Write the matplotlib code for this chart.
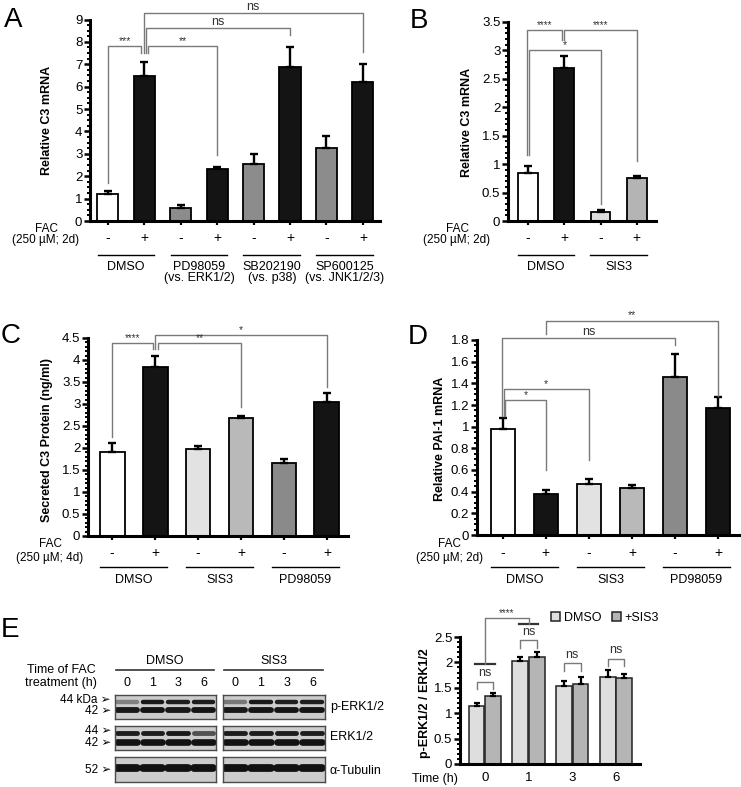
import numpy as np
import matplotlib
matplotlib.use("Agg")
import matplotlib.pyplot as plt
from matplotlib.ticker import MultipleLocator, FuncFormatter
from matplotlib.transforms import blended_transform_factory

plt.rcParams['font.family'] = ['Liberation Sans', 'DejaVu Sans']

# ---------------- data ----------------
A_vals = [1.21, 6.48, 0.58, 2.31, 2.53, 6.87, 3.25, 6.22]
A_err = [0.11, 0.61, 0.13, 0.11, 0.45, 0.88, 0.55, 0.79]
A_colors = ['white', '#141414', '#8c8c8c', '#141414', '#8c8c8c', '#141414', '#8c8c8c', '#141414']
A_fac = ['-', '+', '-', '+', '-', '+', '-', '+']
A_groups = ['DMSO', 'PD98059', 'SB202190', 'SP600125']
A_sub = ['', '(vs. ERK1/2)', '(vs. p38)', '(vs. JNK1/2/3)']

B_vals = [0.85, 2.69, 0.16, 0.75]
B_err = [0.12, 0.21, 0.03, 0.04]
B_colors = ['white', '#141414', '#dcdcdc', '#b4b4b4']
B_fac = ['-', '+', '-', '+']
B_groups = ['DMSO', 'SIS3']

C_vals = [1.92, 3.85, 1.97, 2.69, 1.65, 3.05]
C_err = [0.20, 0.23, 0.08, 0.04, 0.09, 0.21]
C_colors = ['white', '#141414', '#e2e2e2', '#b9b9b9', '#8a8a8a', '#141414']
C_fac = ['-', '+', '-', '+', '-', '+']
C_groups = ['DMSO', 'SIS3', 'PD98059']

D_vals = [0.98, 0.38, 0.47, 0.43, 1.46, 1.17]
D_err = [0.10, 0.035, 0.045, 0.035, 0.21, 0.10]
D_colors = ['white', '#141414', '#e2e2e2', '#b9b9b9', '#8a8a8a', '#141414']
D_fac = ['-', '+', '-', '+', '-', '+']
D_groups = ['DMSO', 'SIS3', 'PD98059']

E_times = ['0', '1', '3', '6']
E_dmso = [1.14, 2.03, 1.54, 1.71]
E_dmso_err = [0.07, 0.07, 0.10, 0.14]
E_sis3 = [1.33, 2.11, 1.57, 1.69]
E_sis3_err = [0.06, 0.09, 0.14, 0.08]
E_series = ['DMSO', '+SIS3']

# western blot band darkness (0 = none, 1 = black), lanes 0,1,3,6 h
blot_lanes = ['0', '1', '3', '6']
blot_rows = ['p-ERK1/2', 'ERK1/2', '\u03b1-Tubulin']
perk44_dmso = [0.4, 0.95, 0.92, 0.93]
perk42_dmso = [0.95, 0.97, 0.95, 0.97]
perk44_sis3 = [0.45, 0.95, 0.92, 0.92]
perk42_sis3 = [0.95, 0.97, 0.97, 0.97]
erk44_dmso = [0.93, 0.93, 0.95, 0.65]
erk42_dmso = [0.98, 0.98, 0.98, 0.98]
erk44_sis3 = [0.93, 0.93, 0.93, 0.93]
erk42_sis3 = [0.98, 0.98, 0.98, 0.98]
tub_dmso = [0.99, 0.99, 0.99, 0.99]
tub_sis3 = [0.99, 0.99, 0.99, 0.99]

# ---------------- layout helpers ----------------
W, H = 741, 787
fig = plt.figure(figsize=(W / 100, H / 100), dpi=100)


def add_ax(x0, ytop, x1, ybot):
    return fig.add_axes([x0 / W, 1 - ybot / H, (x1 - x0) / W, (ybot - ytop) / H])


def ftext(x, y, s, **kw):
    return fig.text(x / W, 1 - y / H, s, **kw)


fmt = FuncFormatter(lambda v, p: '%g' % round(v, 3))
BR = '#7a7a7a'


def style_axis(ax, ylim, major, minor, xlim):
    ax.set_ylim(*ylim)
    ax.set_xlim(*xlim)
    for s in ['top', 'right']:
        ax.spines[s].set_visible(False)
    for s in ['left', 'bottom']:
        ax.spines[s].set_linewidth(2.2)
    ax.yaxis.set_major_locator(MultipleLocator(major))
    ax.yaxis.set_minor_locator(MultipleLocator(minor))
    ax.yaxis.set_major_formatter(fmt)
    ax.tick_params(axis='y', which='major', length=4, width=1.8, labelsize=9.5, pad=1.5)
    ax.tick_params(axis='y', which='minor', length=2.5, width=1.4)
    ax.patch.set_alpha(0)


def bar_panel(rect, vals, errs, colors, ylim, major, minor, xlim, width):
    ax = add_ax(*rect)
    x = np.arange(len(vals))
    ax.bar(x, vals, width, color=colors, edgecolor='black', linewidth=1.3, zorder=2)
    ax.errorbar(x, vals, yerr=[np.zeros(len(vals)), errs], fmt='none', ecolor='black',
                elinewidth=1.7, capsize=3, capthick=1.7, zorder=3)
    style_axis(ax, ylim, major, minor, xlim)
    ax.set_xticks(x)
    ax.set_xticklabels([])
    ax.tick_params(axis='x', length=3, width=1.6)
    return ax


def bracket(ax, xa, xb, ytop, ya, yb, label, fs=8, dy=0.0):
    ax.plot([xa, xa, xb, xb], [ya, ytop, ytop, yb], color=BR, lw=1.0, clip_on=False, zorder=4)
    ax.text((xa + xb) / 2, ytop + dy, label, ha='center', va='bottom', fontsize=fs,
            color='#333333', clip_on=False, zorder=5)


def below(ax, fac, groups, sub, sign_y, line_y, name_y, sub_y, fac_x, fac_y, fac_y2, days):
    tr = blended_transform_factory(ax.transData, fig.transFigure)
    for i, f in enumerate(fac):
        ax.text(i, 1 - sign_y / H, f, transform=tr, ha='center', va='center', fontsize=10)
    for g, name in enumerate(groups):
        a, b = 2 * g - 0.28, 2 * g + 1 + 0.28
        ax.plot([a, b], [1 - line_y / H] * 2, transform=tr, color='black', lw=1.0, clip_on=False)
        ax.text(2 * g + 0.5, 1 - name_y / H, name, transform=tr, ha='center', va='center', fontsize=9)
        if sub is not None and sub[g]:
            ax.text(2 * g + 0.5, 1 - sub_y / H, sub[g], transform=tr, ha='center', va='center', fontsize=9)
    ftext(fac_x, fac_y, 'FAC', ha='center', va='center', fontsize=8.5)
    ftext(fac_x, fac_y2, '(250 \u00b5M; %s)' % days, ha='center', va='center', fontsize=8.5)


# ---------------- Panel A ----------------
axA = bar_panel((90, 19.5, 380, 221), A_vals, A_err, A_colors, (0, 9), 1, 0.25, (-0.49, 7.47), 0.58)
bracket(axA, 0, 0.92, 7.8, 1.7, 7.5, '***', fs=7.5)
bracket(axA, 1.1, 3, 7.8, 7.5, 2.95, '**', fs=7.5)
bracket(axA, 1.04, 5, 8.6, 7.5, 8.3, 'ns', fs=9)
bracket(axA, 0.98, 7, 9.28, 7.5, 7.55, 'ns', fs=9)
below(axA, A_fac, A_groups, A_sub, 238, 255, 267, 278.5, 46, 228.5, 240, '2d')
ftext(47, 120, 'Relative C3 mRNA', rotation=90, ha='center', va='center', fontsize=9, fontweight='bold')
ftext(13, 20, 'A', ha='center', va='center', fontsize=20)

# ---------------- Panel B ----------------
axB = bar_panel((508, 22, 656, 221), B_vals, B_err, B_colors, (0, 3.5), 0.5, 0.1, (-0.55, 3.53), 0.55)
bracket(axB, -0.04, 0.93, 3.36, 1.16, 3.18, '****', fs=7)
bracket(axB, 1.0, 3, 3.36, 3.18, 1.05, '****', fs=7)
bracket(axB, 0.02, 2, 3.0, 1.16, 0.3, '*', fs=7.5)
below(axB, B_fac, B_groups, None, 238, 255, 267, 0, 457, 228.5, 240, '2d')
ftext(467, 122, 'Relative C3 mRNA', rotation=90, ha='center', va='center', fontsize=9, fontweight='bold')
ftext(419, 21, 'B', ha='center', va='center', fontsize=20)

# ---------------- Panel C ----------------
axC = bar_panel((88, 338, 348, 536), C_vals, C_err, C_colors, (0, 4.5), 0.5, 0.1, (-0.56, 5.49), 0.58)
bracket(axC, 0, 0.95, 4.38, 2.26, 4.26, '****', fs=7)
bracket(axC, 1.07, 3, 4.38, 4.26, 2.94, '**', fs=7.5)
bracket(axC, 1.01, 5, 4.57, 4.26, 3.38, '*', fs=7.5)
below(axC, C_fac, C_groups, None, 553, 567, 580, 0, 50, 544, 557.5, '4d')
ftext(47, 440, 'Secreted C3 Protein (ng/ml)', rotation=90, ha='center', va='center', fontsize=9, fontweight='bold')
ftext(11, 336, 'C', ha='center', va='center', fontsize=20)

# ---------------- Panel D ----------------
axD = bar_panel((477, 340, 740, 535), D_vals, D_err, D_colors, (0, 1.8), 0.2, 0.05, (-0.6, 5.51), 0.56)
bracket(axD, 0.05, 1, 1.25, 1.1, 0.6, '*', fs=7.5)
bracket(axD, 0.02, 2, 1.345, 1.1, 0.69, '*', fs=7.5)
bracket(axD, -0.01, 4, 1.816, 1.1, 1.75, 'ns', fs=9)
bracket(axD, 1, 5, 1.98, 1.86, 1.28, '**', fs=7.5)
below(axD, D_fac, D_groups, None, 553, 567, 580, 0, 450, 544, 557.5, '2d')
ftext(440, 439, 'Relative PAI-1 mRNA', rotation=90, ha='center', va='center', fontsize=9, fontweight='bold')
ftext(418, 337, 'D', ha='center', va='center', fontsize=20)

# ---------------- Panel E (quantification) ----------------
axE = add_ax(460, 637, 640, 764)
g = np.arange(len(E_times))
bw = 0.36
b1 = axE.bar(g - 0.19, E_dmso, bw, color='#dedede', edgecolor='#222222', linewidth=1.1, zorder=2, label=E_series[0])
b2 = axE.bar(g + 0.19, E_sis3, bw, color='#b5b5b5', edgecolor='#222222', linewidth=1.1, zorder=2, label=E_series[1])
axE.errorbar(g - 0.19, E_dmso, yerr=[np.zeros(4), E_dmso_err], fmt='none', ecolor='black',
             elinewidth=1.6, capsize=2.5, capthick=1.6, zorder=3)
axE.errorbar(g + 0.19, E_sis3, yerr=[np.zeros(4), E_sis3_err], fmt='none', ecolor='black',
             elinewidth=1.6, capsize=2.5, capthick=1.6, zorder=3)
style_axis(axE, (0, 2.5), 0.5, 0.1, (-0.57, 3.55))
axE.set_xticks(g)
axE.set_xticklabels(E_times, fontsize=9.5)
axE.tick_params(axis='x', length=0, pad=6)
# ns brackets per time point
ns_y = [1.62, 2.44, 1.98, 2.07]
for i, yb in enumerate(ns_y):
    axE.plot([i - 0.19, i - 0.19, i + 0.19, i + 0.19], [yb - 0.15, yb, yb, yb - 0.15], color=BR, lw=1.0,
             clip_on=False)
    axE.text(i, yb + 0.05, 'ns', ha='center', va='bottom', fontsize=9, color='#333333', clip_on=False)
# **** comparison 0 h vs 1 h
axE.plot([-0.23, 0.23], [1.97, 1.97], color='#333333', lw=1.6, clip_on=False)
axE.plot([1 - 0.22, 1 + 0.22], [2.76, 2.76], color='#333333', lw=1.6, clip_on=False)
axE.plot([0, 0, 1, 1], [1.97, 2.87, 2.87, 2.76], color=BR, lw=1.0, clip_on=False)
axE.text(0.5, 2.87, '****', ha='center', va='bottom', fontsize=7, color='#333333', clip_on=False)
axE.legend(handles=[b1, b2], labels=E_series, loc='center left', bbox_to_anchor=(551 / W, 1 - 618 / H),
           bbox_transform=fig.transFigure, ncol=2, frameon=False, fontsize=9, handlelength=0.75,
           handleheight=0.75, handletextpad=0.3, columnspacing=0.8, borderaxespad=0, borderpad=0)
ftext(425, 703, 'p-ERK1/2 / ERK1/2', rotation=90, ha='center', va='center', fontsize=9, fontweight='bold')
ftext(412, 779, 'Time (h)', ha='left', va='center', fontsize=9)
ftext(10, 630, 'E', ha='center', va='center', fontsize=20)

# ---------------- Panel E (western blot) ----------------
BG = 0.80


def band_color(d):
    v = BG * (1 - d) + 0.06 * d
    return (v, v, v)


def blot(x0, x1, ytop, ybot, bands):
    ax = add_ax(x0, ytop, x1, ybot)
    ax.set_xlim(-0.47, 3.5)
    ax.set_ylim(0, 1)
    ax.set_facecolor((BG, BG, BG))
    for s in ax.spines.values():
        s.set_linewidth(1.0)
        s.set_color('#4a4a4a')
    ax.set_xticks([])
    ax.set_yticks([])
    for (dark, yy, lw) in bands:
        for i, d in enumerate(dark):
            ax.plot([i - 0.38, i + 0.38], [yy, yy], color=band_color(d), lw=lw,
                    solid_capstyle='round')
    return ax


xs = [(115, 216), (223, 325)]
rows = [(695, 719), (726, 750), (757, 782)]
blot_sets = [
    [[(perk44_dmso, 0.72, 3.2), (perk42_dmso, 0.36, 4.2)],
     [(erk44_dmso, 0.72, 3.5), (erk42_dmso, 0.35, 4.8)],
     [(tub_dmso, 0.58, 5.6)]],
    [[(perk44_sis3, 0.72, 3.2), (perk42_sis3, 0.36, 4.2)],
     [(erk44_sis3, 0.72, 3.5), (erk42_sis3, 0.35, 4.8)],
     [(tub_sis3, 0.58, 5.6)]],
]
for k, (x0, x1) in enumerate(xs):
    for r, (yt, yb) in enumerate(rows):
        blot(x0, x1, yt, yb, blot_sets[k][r])
    lane_x = np.linspace(x0 + 12, x1 - 12, 4)
    for lx, lab in zip(lane_x, blot_lanes):
        ftext(lx, 683, lab, ha='center', va='center', fontsize=9)
    fig.add_artist(plt.Line2D([(x0 + 1) / W, (x1 - 2) / W], [1 - 670 / H] * 2, color='#333333', lw=1.2))
ftext(165, 661, 'DMSO', ha='center', va='center', fontsize=9)
ftext(274, 661, 'SIS3', ha='center', va='center', fontsize=9)
ftext(61, 670, 'Time of FAC', ha='center', va='center', fontsize=9)
ftext(61, 683, 'treatment (h)', ha='center', va='center', fontsize=9)
for lab, yy in [('44 kDa \u27a2', 700), ('42 \u27a2', 711), ('44 \u27a2', 731.5), ('42 \u27a2', 742.5), ('52 \u27a2', 770)]:
    ftext(111, yy, lab, ha='right', va='center', fontsize=8.5)
for lab, yy in zip(blot_rows, [707, 737, 771]):
    ftext(330, yy, lab, ha='left', va='center', fontsize=9)

fig.savefig('out.png', dpi=100)
